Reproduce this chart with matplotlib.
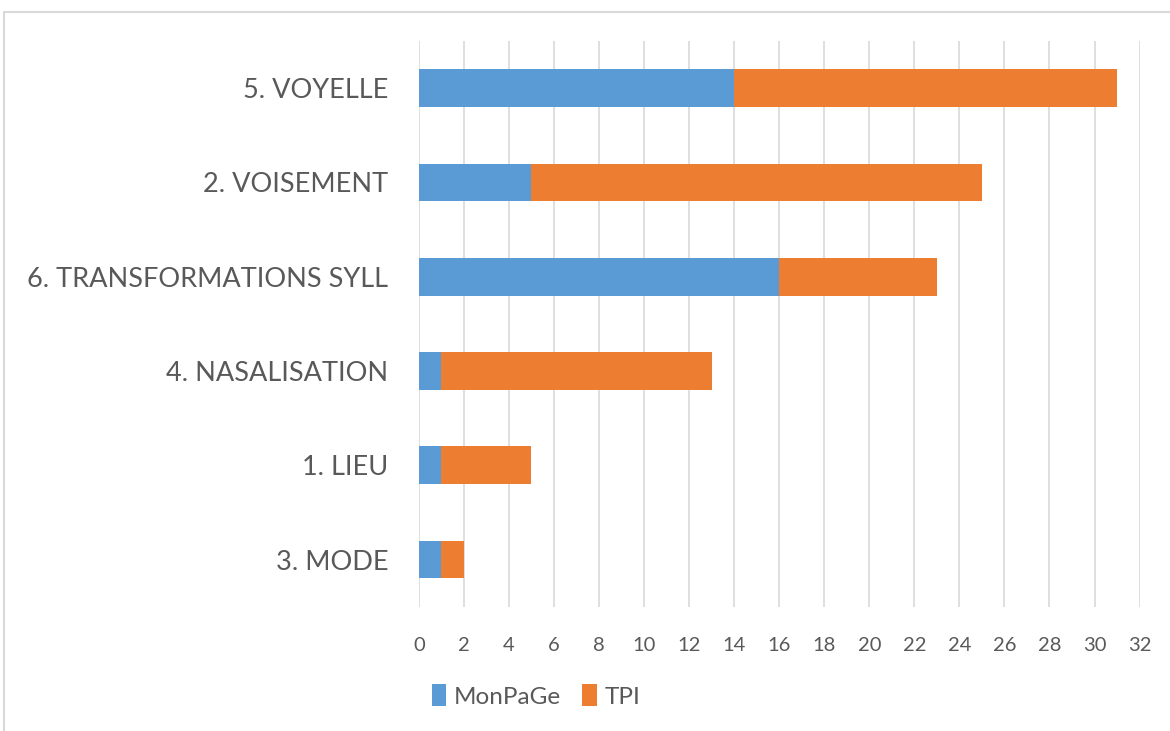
import matplotlib.pyplot as plt
from matplotlib.patches import Rectangle

categories = ["3. MODE", "1. LIEU", "4. NASALISATION", "6. TRANSFORMATIONS SYLL",
              "2. VOISEMENT", "5. VOYELLE"]
monpage = [1, 1, 1, 16, 5, 14]
tpi = [1, 4, 12, 7, 20, 17]
x_ticks = list(range(0, 33, 2))

plt.rcParams["font.family"] = ["Lato", "DejaVu Sans"]
text_color = "#595959"

fig = plt.figure(figsize=(11.7, 7.31), dpi=100)
ax = fig.add_axes([0.358, 0.170, 0.616, 0.774])

pos = range(len(categories))
b1 = ax.barh(pos, monpage, height=0.4, color="#5B9BD5", label="MonPaGe", zorder=3)
b2 = ax.barh(pos, tpi, left=monpage, height=0.4, color="#ED7D31", label="TPI", zorder=3)

ax.set_yticks(list(pos))
ax.set_yticklabels(categories, fontsize=19.5, color=text_color)
ax.set_ylim(-0.5, len(categories) - 0.5)
ax.set_xlim(0, 32)
ax.set_xticks(x_ticks)
ax.set_xticklabels([str(t) for t in x_ticks], fontsize=14.5, color=text_color)
ax.tick_params(axis="both", length=0)
ax.tick_params(axis="y", pad=22)
ax.tick_params(axis="x", pad=22)
ax.grid(axis="x", color="#D9D9D9", linewidth=1.2, zorder=0)
for s in ax.spines.values():
    s.set_visible(False)

fig.legend(handles=[b1, b2], loc="center", bbox_to_anchor=(0.458, 0.048),
           ncol=2, frameon=False, fontsize=17.5, labelcolor=text_color,
           handlelength=0.6, handleheight=1.0, handletextpad=0.3, columnspacing=0.9)

fig.patches.append(Rectangle((4 / 1170, -0.1), 1.2, 1.1 - 12 / 731, transform=fig.transFigure,
                             fill=False, edgecolor="#D9D9D9", linewidth=1.5))

fig.savefig("out.png", dpi=100)
